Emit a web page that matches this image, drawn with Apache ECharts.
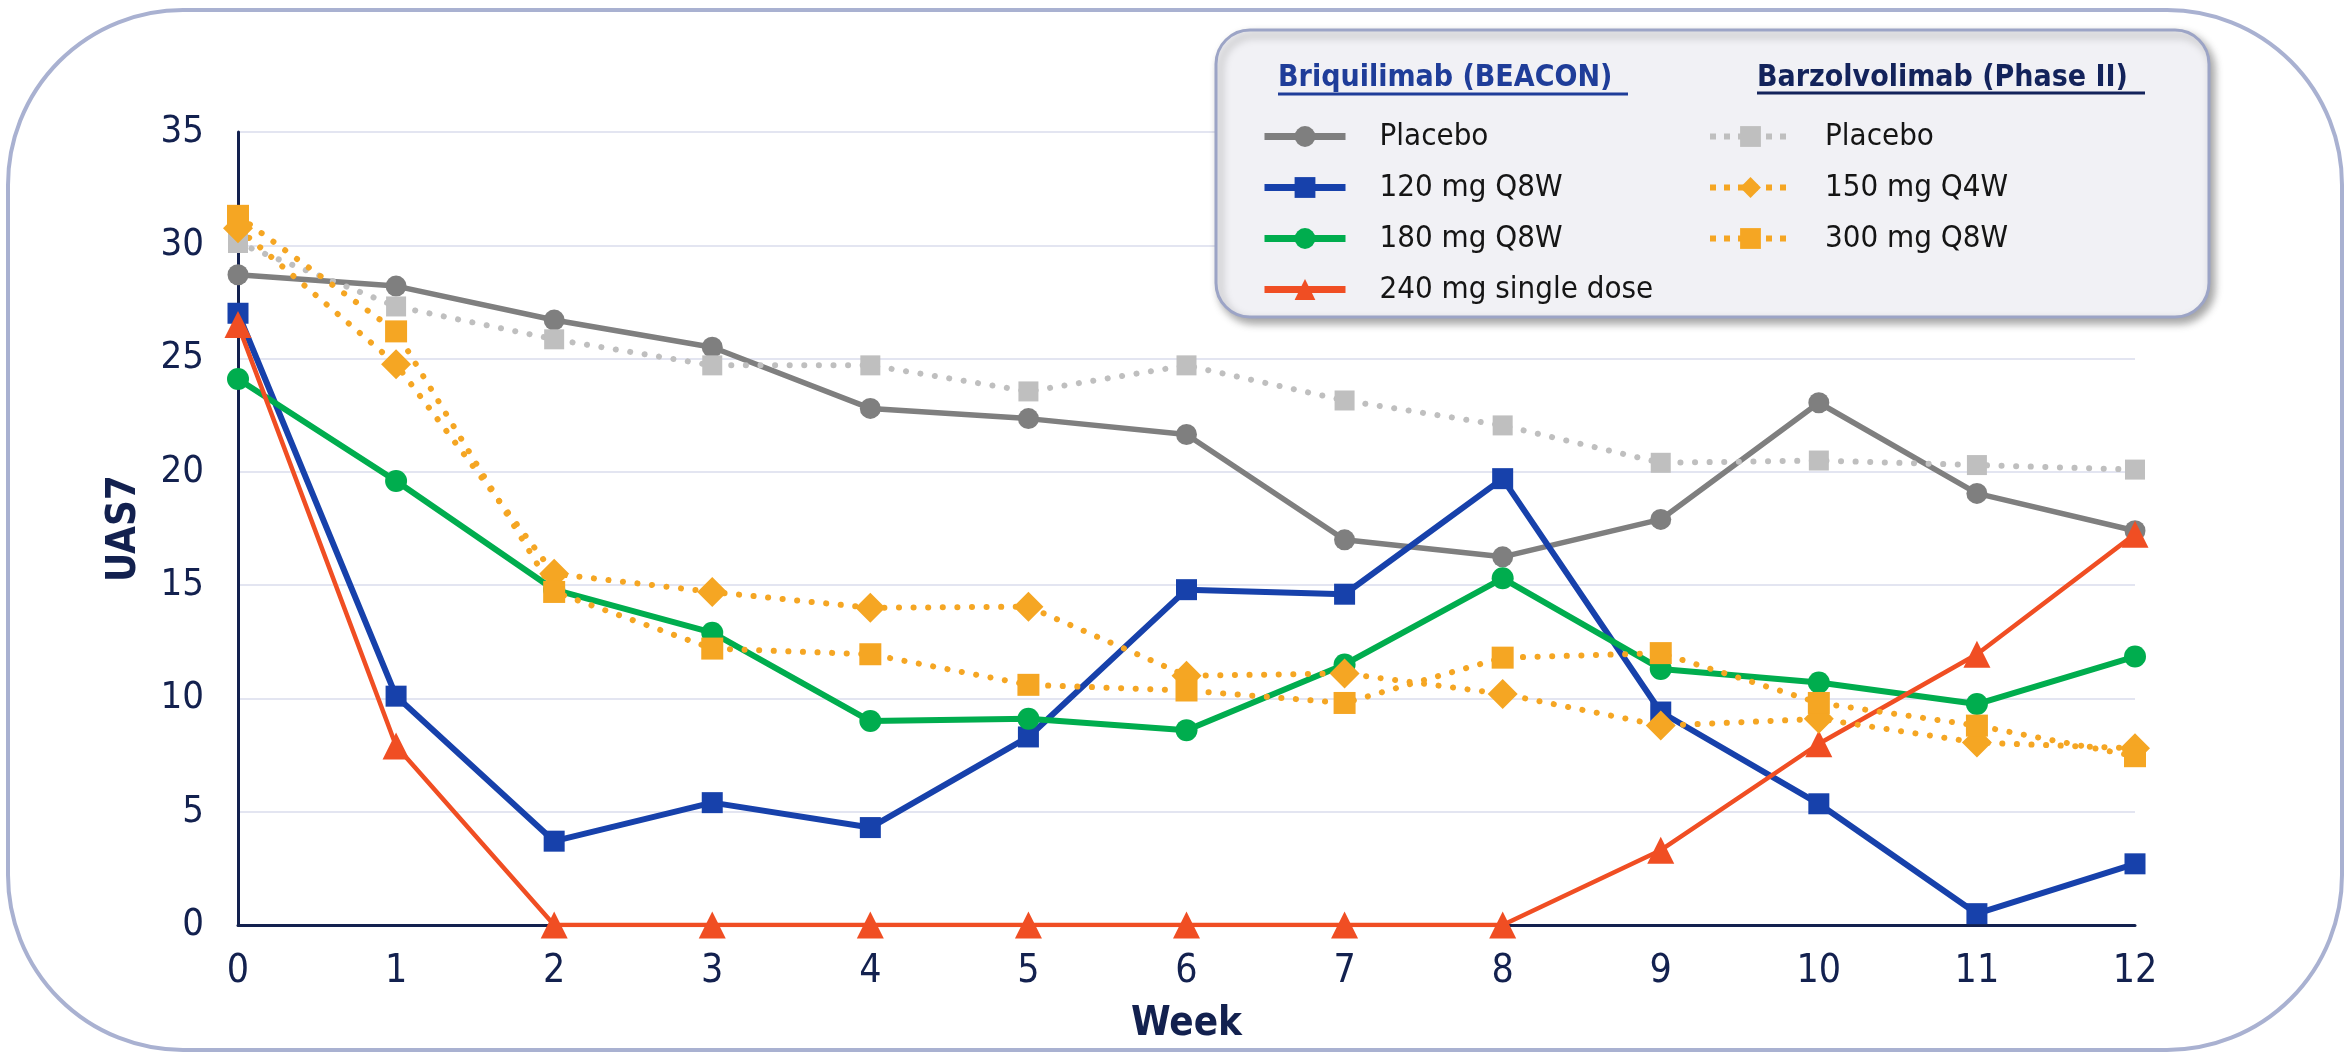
<!DOCTYPE html>
<html><head><meta charset="utf-8">
<script src="https://cdn.jsdelivr.net/npm/echarts@6/dist/echarts.min.js"></script>
<style>html,body{margin:0;padding:0;background:#fff}#c{width:2346px;height:1053px}</style>
</head><body><div id="c"></div>
<script>
// ---- data ----
const weeks = ['0','1','2','3','4','5','6','7','8','9','10','11','12'];
const yTicks = [0, 5, 10, 15, 20, 25, 30, 35];
const briqPlacebo = [28.7, 28.2, 26.7, 25.5, 22.8, 22.35, 21.65, 17.0, 16.25, 17.9, 23.05, 19.05, 17.4];
const briq120 = [27.0, 10.1, 3.7, 5.4, 4.3, 8.3, 14.8, 14.6, 19.7, 9.4, 5.35, 0.5, 2.7];
const briq180 = [24.1, 19.6, 14.8, 12.9, 9.0, 9.1, 8.6, 11.5, 15.3, 11.3, 10.7, 9.75, 11.85];
const briq240 = [26.5, 7.9, 0, 0, 0, 0, 0, 0, 0, 3.3, 8.0, 11.95, 17.25];
const barzPlacebo = [30.1, 27.3, 25.85, 24.7, 24.7, 23.55, 24.7, 23.15, 22.05, 20.4, 20.5, 20.3, 20.1];
const barz150 = [30.75, 24.75, 15.5, 14.7, 14.0, 14.05, 11.0, 11.1, 10.2, 8.8, 9.1, 8.05, 7.8];
const barz300 = [31.3, 26.2, 14.7, 12.2, 11.95, 10.6, 10.35, 9.8, 11.8, 12.0, 9.8, 8.8, 7.45];
const groupTitles = ['Briquilimab (BEACON)', 'Barzolvolimab (Phase II)'];
const namesBriq = ['Placebo', '120 mg Q8W', '180 mg Q8W', '240 mg single dose'];
const namesBarz = ['Placebo ', '150 mg Q4W', '300 mg Q8W'];

// ---- style ----
const FONT = '"DejaVu Sans Condensed", "Noto Sans", "Open Sans", sans-serif';
const NAVY = '#13214f';
const GRAY = '#7f7f7f', BLUE = '#1741ab', GREEN = '#00ad4e', RED = '#f04e23', LGRAY = '#bfbfbf', ORANGE = '#f5a623';

function solid(name, data, color, width, symbol, size) {
  return { name, type: 'line', data, symbol, symbolSize: size, showSymbol: true,
    lineStyle: { color, width }, itemStyle: { color },
    emphasis: { disabled: true }, animation: false };
}
function dotted(name, data, color, symbol, size) {
  return { name, type: 'line', data, symbol, symbolSize: size, showSymbol: true,
    lineStyle: { color, width: 6, type: [0.1, 14.5], cap: 'round' }, itemStyle: { color },
    emphasis: { disabled: true }, animation: false };
}

const series = [
  solid(namesBriq[0], briqPlacebo, GRAY, 5.5, 'circle', 21),
  solid(namesBriq[1], briq120, BLUE, 6, 'rect', 21),
  solid(namesBriq[2], briq180, GREEN, 6, 'circle', 22),
  solid(namesBriq[3], briq240, RED, 4.5, 'triangle', 27),
  dotted(namesBarz[0], barzPlacebo, LGRAY, 'rect', 20),
  dotted(namesBarz[1], barz150, ORANGE, 'diamond', 30),
  dotted(namesBarz[2], barz300, ORANGE, 'rect', 22)
];

const legendText = { fontFamily: FONT, fontSize: 31, color: '#151515', lineHeight: 26, padding: [0, 0, 0, 29] };
const dotLeg = { width: 6, type: [6, 8], cap: 'butt' };

const option = {
  backgroundColor: '#ffffff',
  animation: false,
  grid: { left: 238, right: 211, top: 132, bottom: 128, containLabel: false },
  xAxis: {
    type: 'category', data: weeks, boundaryGap: false,
    axisLine: { lineStyle: { color: NAVY, width: 3 } },
    axisTick: { show: false },
    axisLabel: { fontFamily: FONT, fontSize: 39, color: NAVY, margin: 27 },
    splitLine: { show: false },
    name: 'Week', nameLocation: 'middle', nameGap: 80,
    nameTextStyle: { fontFamily: FONT, fontSize: 40, fontWeight: 'bold', color: NAVY }
  },
  yAxis: {
    type: 'value', min: yTicks[0], max: yTicks[yTicks.length - 1], interval: 5,
    axisLine: { show: true, lineStyle: { color: NAVY, width: 3 } },
    axisTick: { show: false },
    axisLabel: { fontFamily: FONT, fontSize: 38, color: NAVY, margin: 34 },
    splitLine: { show: true, lineStyle: { color: '#e3e5f1', width: 2 } },
    name: 'UAS7', nameLocation: 'middle', nameGap: 93, nameRotate: 90,
    nameTextStyle: { fontFamily: FONT, fontSize: 40, fontWeight: 'bold', color: NAVY }
  },
  legend: [
    { orient: 'vertical', left: 1261, top: 121, padding: 0, itemWidth: 81, itemHeight: 26, itemGap: 20,
      textStyle: legendText, selectedMode: false,
      data: [
        { name: namesBriq[0], lineStyle: { width: 7 } },
        { name: namesBriq[1], lineStyle: { width: 7 } },
        { name: namesBriq[2], lineStyle: { width: 7 } },
        { name: namesBriq[3], lineStyle: { width: 7 } }
      ] },
    { orient: 'vertical', left: 1707, top: 121, padding: 0, itemWidth: 81, itemHeight: 26, itemGap: 20,
      textStyle: legendText, selectedMode: false,
      data: [
        { name: namesBarz[0], lineStyle: dotLeg },
        { name: namesBarz[1], lineStyle: dotLeg },
        { name: namesBarz[2], lineStyle: dotLeg }
      ] }
  ],
  graphic: [
    { type: 'rect', z: -1, silent: true,
      shape: { x: 8, y: 10, width: 2334, height: 1040, r: 175 },
      style: { fill: 'none', stroke: '#a9b1d1', lineWidth: 4 } },
    { type: 'rect', z: 3, silent: true,
      shape: { x: 1216, y: 30, width: 993, height: 287, r: 34 },
      style: { fill: '#f1f1f5', stroke: '#9ca4c6', lineWidth: 3,
        shadowColor: 'rgba(0,0,0,0.35)', shadowBlur: 8, shadowOffsetX: 4, shadowOffsetY: 5 } },
    { type: 'text', z: 5, silent: true,
      style: { text: groupTitles[0], x: 1278, y: 78, verticalAlign: 'middle', align: 'left',
        font: 'bold 30px ' + FONT, fill: '#1f3d99' } },
    { type: 'line', z: 5, silent: true,
      shape: { x1: 1278, y1: 94, x2: 1628, y2: 94 }, style: { stroke: '#1f3d99', lineWidth: 3 } },
    { type: 'text', z: 5, silent: true,
      style: { text: groupTitles[1], x: 1757, y: 78, verticalAlign: 'middle', align: 'left',
        font: 'bold 30px ' + FONT, fill: '#13235b' } },
    { type: 'line', z: 5, silent: true,
      shape: { x1: 1757, y1: 93, x2: 2145, y2: 93 }, style: { stroke: '#13235b', lineWidth: 3 } }
  ],
  series
};

const chart = echarts.init(document.getElementById('c'), null, { renderer: 'canvas' });
chart.setOption(option);
</script>
</body></html>
